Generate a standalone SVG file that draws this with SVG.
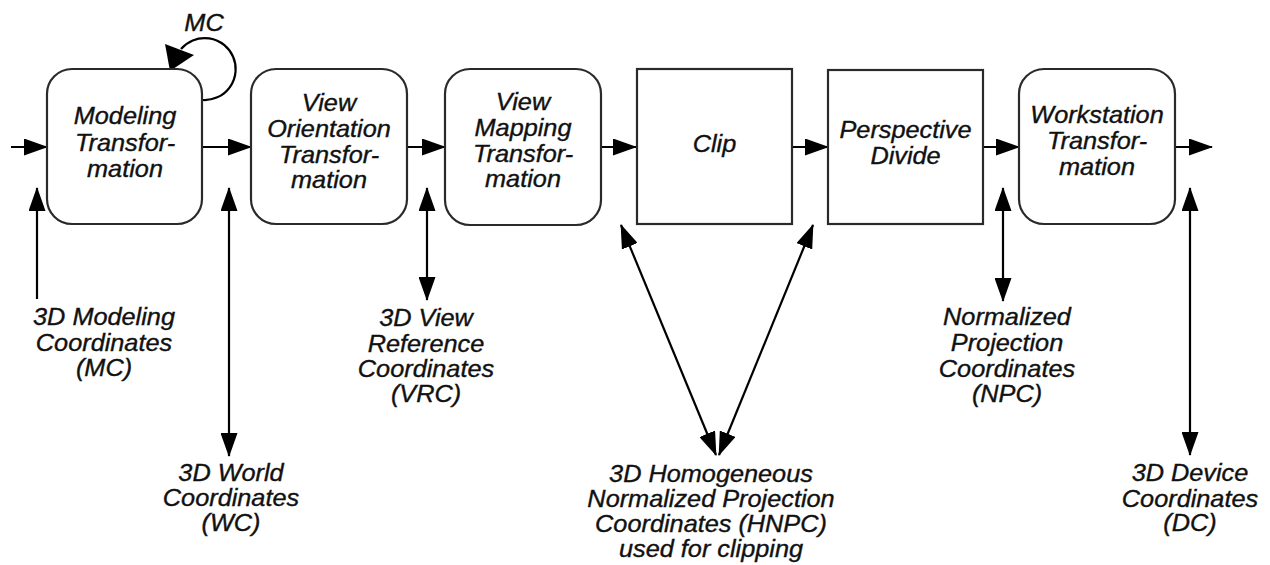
<svg xmlns="http://www.w3.org/2000/svg" width="1270" height="565" viewBox="0 0 1270 565">
<style>
.box{fill:#fff;stroke:#2a2a2a;stroke-width:2.2}
.c{fill:none;stroke:#000;stroke-width:2.2}
.t{font-family:"Liberation Sans",Arial,Helvetica,sans-serif;font-style:italic;font-size:23px;fill:#111;stroke:#111;stroke-width:0.35;text-anchor:middle}
</style>
<defs>
<marker id="ah" viewBox="0 0 24 17" markerWidth="24" markerHeight="17" refX="23" refY="8.5" orient="auto-start-reverse" markerUnits="userSpaceOnUse">
<path d="M0,0 L24,8.5 L0,17 z" fill="#000"/>
</marker>
</defs>
<rect width="1270" height="565" fill="#fff"/>

<g id="connectors">
<line class="c" x1="11" y1="147" x2="47" y2="147" marker-end="url(#ah)"/>
<line class="c" x1="202" y1="147" x2="251" y2="147" marker-end="url(#ah)"/>
<line class="c" x1="407" y1="147" x2="445" y2="147" marker-end="url(#ah)"/>
<line class="c" x1="601" y1="147" x2="636" y2="147" marker-end="url(#ah)"/>
<line class="c" x1="788" y1="147" x2="828" y2="147" marker-end="url(#ah)"/>
<line class="c" x1="983" y1="147" x2="1019" y2="147" marker-end="url(#ah)"/>
<line class="c" x1="1175" y1="147" x2="1212" y2="147" marker-end="url(#ah)"/>
<line class="c" x1="37" y1="299" x2="37" y2="188" marker-end="url(#ah)"/>
<line class="c" x1="229" y1="188" x2="229" y2="456" marker-start="url(#ah)" marker-end="url(#ah)"/>
<line class="c" x1="427" y1="188" x2="427" y2="300" marker-start="url(#ah)" marker-end="url(#ah)"/>
<line class="c" x1="1003" y1="188" x2="1003" y2="301" marker-start="url(#ah)" marker-end="url(#ah)"/>
<line class="c" x1="1190" y1="188" x2="1190" y2="455" marker-start="url(#ah)" marker-end="url(#ah)"/>
<line class="c" x1="621" y1="225" x2="716" y2="455" marker-start="url(#ah)" marker-end="url(#ah)"/>
<line class="c" x1="813" y1="225" x2="719" y2="455" marker-start="url(#ah)" marker-end="url(#ah)"/>
<path class="c" d="M203 100 A31 31 0 1 0 181 49"/>
<polygon points="165,44 194,55 170,71" fill="#000"/>
<text class="t" transform="translate(204 0) scale(1.1 1)" x="0" y="31">MC</text>
</g>

<g id="modeling">
<rect class="box" x="47" y="69" width="155" height="155" rx="25" ry="25"/>
<text class="t" transform="translate(125 0) scale(1.1 1)"><tspan x="0" y="124">Modeling</tspan><tspan x="0" y="151">Transfor-</tspan><tspan x="0" y="177">mation</tspan></text>
</g>
<g id="view-orientation">
<rect class="box" x="251" y="69" width="156" height="155" rx="25" ry="25"/>
<text class="t" transform="translate(329 0) scale(1.1 1)"><tspan x="0" y="111">View</tspan><tspan x="0" y="137">Orientation</tspan><tspan x="0" y="163">Transfor-</tspan><tspan x="0" y="188">mation</tspan></text>
</g>
<g id="view-mapping">
<rect class="box" x="445" y="69" width="156" height="156" rx="25" ry="25"/>
<text class="t" transform="translate(523 0) scale(1.1 1)"><tspan x="0" y="110">View</tspan><tspan x="0" y="136">Mapping</tspan><tspan x="0" y="162">Transfor-</tspan><tspan x="0" y="187">mation</tspan></text>
</g>
<g id="clip">
<rect class="box" x="637" y="69" width="155" height="155"/>
<text class="t" transform="translate(714.5 0) scale(1.1 1)" x="0" y="152">Clip</text>
</g>
<g id="perspective-divide">
<rect class="box" x="828" y="70" width="155" height="154"/>
<text class="t" transform="translate(905.5 0) scale(1.1 1)"><tspan x="0" y="138">Perspective</tspan><tspan x="0" y="164">Divide</tspan></text>
</g>
<g id="workstation">
<rect class="box" x="1019" y="69" width="156" height="155" rx="25" ry="25"/>
<text class="t" transform="translate(1097 0) scale(1.1 1)"><tspan x="0" y="123">Workstation</tspan><tspan x="0" y="149">Transfor-</tspan><tspan x="0" y="175">mation</tspan></text>
</g>

<g id="label-mc">
<text class="t" transform="translate(104 0) scale(1.1 1)"><tspan x="0" y="325">3D Modeling</tspan><tspan x="0" y="351">Coordinates</tspan><tspan x="0" y="376">(MC)</tspan></text>
</g>
<g id="label-wc">
<text class="t" transform="translate(231 0) scale(1.1 1)"><tspan x="0" y="481">3D World</tspan><tspan x="0" y="506">Coordinates</tspan><tspan x="0" y="531">(WC)</tspan></text>
</g>
<g id="label-vrc">
<text class="t" transform="translate(426 0) scale(1.1 1)"><tspan x="0" y="326">3D View</tspan><tspan x="0" y="352">Reference</tspan><tspan x="0" y="377">Coordinates</tspan><tspan x="0" y="402">(VRC)</tspan></text>
</g>
<g id="label-hnpc">
<text class="t" transform="translate(711 0) scale(1.1 1)"><tspan x="0" y="482">3D Homogeneous</tspan><tspan x="0" y="507">Normalized Projection</tspan><tspan x="0" y="532">Coordinates (HNPC)</tspan><tspan x="0" y="557">used for clipping</tspan></text>
</g>
<g id="label-npc">
<text class="t" transform="translate(1007 0) scale(1.1 1)"><tspan x="0" y="325">Normalized</tspan><tspan x="0" y="351">Projection</tspan><tspan x="0" y="377">Coordinates</tspan><tspan x="0" y="402">(NPC)</tspan></text>
</g>
<g id="label-dc">
<text class="t" transform="translate(1190 0) scale(1.1 1)"><tspan x="0" y="481">3D Device</tspan><tspan x="0" y="507">Coordinates</tspan><tspan x="0" y="531">(DC)</tspan></text>
</g>
</svg>
